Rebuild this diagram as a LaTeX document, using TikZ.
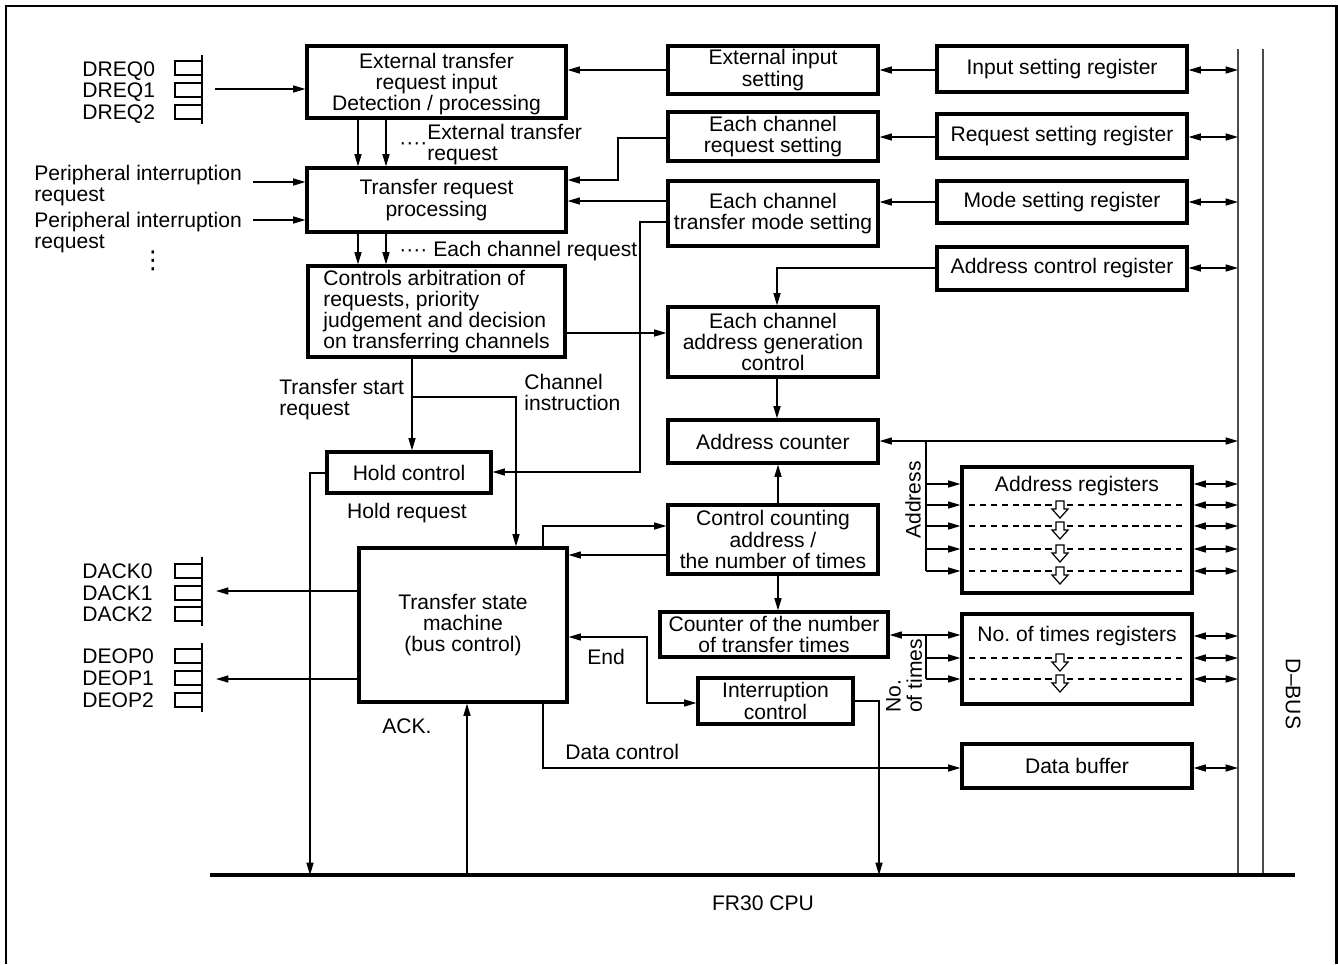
\documentclass[tikz,border=0pt]{standalone}
\usepackage{fontspec}
\setmainfont{Liberation Sans}
\newfontfamily\dejavu{DejaVu Sans}
\usetikzlibrary{arrows.meta,fit}
\newcommand\hollowdown[2]{\draw[line width=0.7pt, fill=white] (#1-4,#2-4) -- (#1+4,#2-4) -- (#1+4,#2+4) -- (#1+8,#2+4) -- (#1,#2+13) -- (#1-8,#2+4) -- (#1-4,#2+4) -- cycle;}
\begin{document}
\begin{tikzpicture}[x=0.02cm,y=-0.02cm,
  every node/.style={font=\fontsize{12}{12.1}\selectfont, inner sep=0pt},
  box/.style={draw, line width=1.8pt, inner sep=0pt},
  conn/.style={line width=0.75pt},
  tip/.tip={Triangle[length=7pt,width=4pt]},
  arr/.style={conn, -tip},
  darr/.style={conn, tip-tip},
  pin/.style={draw, line width=0.75pt},
  dbus/.style={line width=1.1pt, draw=black!70},
  regdash/.style={line width=0.8pt, dash pattern=on 3.6pt off 2.6pt}
]
\useasboundingbox (0,0) rectangle (1338,964);
% frame
\draw[line width=1.7pt] (6,964) -- (6,6) -- (1336,6) -- (1336,964);

% ---------- left column boxes
\node[box, fit={(307,46) (566,118)}] (ext) {};
\node[align=center] (extt) at ([yshift=-0.04cm]ext.center) {External transfer\\request input\\Detection / processing};
\node[box, fit={(307,168) (566,232)}] (trp) {};
\node[align=center] (trpt) at (trp) {Transfer request\\processing};
\node[box, fit={(308,266) (565,357)}] (arb) {};
\node[align=left] (arbt) at (arb) {Controls arbitration of\\requests, priority\\judgement and decision\\on transferring channels};
\node[box, fit={(327,452) (491,493)}] (hold) {};
\node (holdt) at (hold) {Hold control};
\node[box, fit={(359,548) (567,702)}] (tsm) {};
\node[align=center] (tsmt) at (tsm) {Transfer state\\machine\\(bus control)};

% ---------- middle column boxes
\node[box, fit={(668,46) (878,94)}] (eis) {};
\node[align=center] (eist) at (eis) {External input\\setting};
\node[box, fit={(668,112) (878,161)}] (ecrs) {};
\node[align=center] (ecrst) at (ecrs) {Each channel\\request setting};
\node[box, fit={(668,181) (878,246)}] (ectm) {};
\node[align=center] (ectmt) at (ectm) {Each channel\\transfer mode setting};
\node[box, fit={(668,307) (878,377)}] (ecag) {};
\node[align=center] (ecagt) at (ecag) {Each channel\\address generation\\control};
\node[box, fit={(668,420) (878,463)}] (ac) {};
\node (act) at (ac) {Address counter};
\node[box, fit={(668,505) (878,574)}] (cca) {};
\node[align=center] (ccat) at (cca) {Control counting\\address /\\the number of times};
\node[box, fit={(660,612) (888,657)}] (cnt) {};
\node[align=center] (cntt) at (cnt) {Counter of the number\\of transfer times};
\node[box, fit={(698,678) (853,724)}] (intc) {};
\node[align=center] (intct) at (intc) {Interruption\\control};

% ---------- right column boxes
\node[box, fit={(937,46) (1187,92)}] (isr) {};
\node (isrt) at (isr) {Input setting register};
\node[box, fit={(937,114) (1187,158)}] (rsr) {};
\node (rsrt) at (rsr) {Request setting register};
\node[box, fit={(937,181) (1187,223)}] (msr) {};
\node (msrt) at (msr) {Mode setting register};
\node[box, fit={(937,247) (1187,290)}] (acr) {};
\node (acrt) at (acr) {Address control register};
\node[box, fit={(962,467) (1192,593)}] (areg) {};
\node[anchor=base] (aregt) at (1077,491) {Address registers};
\node[box, fit={(962,614) (1192,704)}] (nreg) {};
\node[anchor=base] (nregt) at (1077,641) {No.\ of times registers};
\node[box, fit={(962,744) (1192,788)}] (dbuf) {};
\node (dbuft) at (dbuf) {Data buffer};

% register rows
\foreach \y in {505,526,549,571} {
  \draw[regdash] (969,\y) -- (1186,\y);
  \hollowdown{1060}{\y}
}
\foreach \y in {658,679} {
  \draw[regdash] (969,\y) -- (1186,\y);
  \hollowdown{1060}{\y}
}

% ---------- buses
\coordinate (busL) at (210,875);
\coordinate (busR) at (1295,875);
\coordinate (dbl) at (1238,49);
\coordinate (dbr) at (1263,49);
\draw[dbus] (dbl) -- (dbl |- busL);
\draw[dbus] (dbr) -- (dbr |- busL);
\draw[line width=1.9pt] (busL) -- (busR);
\node[rotate=-90] (dbuslbl) at (1293,694) {D–BUS};
\node[anchor=base] (cpu) at (763,910) {FR30 CPU};

% ---------- pins
\foreach \y in {61,83,105} \draw[pin] (175,\y) rectangle (202,\y+14);
\draw[conn] (202,55) -- (202,124);
\foreach \y in {564,586,607} \draw[pin] (175,\y) rectangle (202,\y+14);
\draw[conn] (202,557) -- (202,626);
\foreach \y in {649,671,693} \draw[pin] (175,\y) rectangle (202,\y+14);
\draw[conn] (202,643) -- (202,712);
\node[anchor=base west] (dreq0) at (82,76) {DREQ0};
\node[anchor=base west] (dreq1) at (82,97) {DREQ1};
\node[anchor=base west] (dreq2) at (82,119) {DREQ2};
\node[anchor=base west] (dack0) at (82,578) {DACK0};
\node[anchor=base west] (dack1) at (82,600) {DACK1};
\node[anchor=base west] (dack2) at (82,621) {DACK2};
\node[anchor=base west] (deop0) at (82,663) {DEOP0};
\node[anchor=base west] (deop1) at (82,685) {DEOP1};
\node[anchor=base west] (deop2) at (82,707) {DEOP2};

\coordinate (dreqout) at (215,89);
\draw[arr] (dreqout) -- (ext.west |- dreqout);
\coordinate (dackin) at (216,591);
\draw[arr] (tsm.west |- dackin) -- (dackin);
\coordinate (deopin) at (216,679);
\draw[arr] (tsm.west |- deopin) -- (deopin);

% ---------- peripheral requests
\node[anchor=north west, align=left] (per1) at (34,165) {Peripheral interruption\\request};
\node[anchor=north west, align=left] (per2) at (34,212) {Peripheral interruption\\request};
\node (vd) at (153,261) {\dejavu\fontsize{14}{14}\selectfont ⋮};
\coordinate (p1) at (253,182);
\coordinate (p2) at (253,220);
\draw[arr] (p1) -- (trp.west |- p1);
\draw[arr] (p2) -- (trp.west |- p2);

% ---------- left column connectors
\draw[arr] (358,0 |- ext.south) -- (358,0 |- trp.north);
\draw[arr] (386,0 |- ext.south) -- (386,0 |- trp.north);
\node[anchor=base west] (dots1) at (399,149) {····};
\node[anchor=north west, align=left] (extreq) at (427,124) {External transfer\\request};
\draw[arr] (358,0 |- trp.south) -- (358,0 |- arb.north);
\draw[arr] (386,0 |- trp.south) -- (386,0 |- arb.north);
\node[anchor=base west] (echreq) at (399,256) {···· Each channel request};

\draw[arr] (412,0 |- arb.south) -- (412,0 |- hold.north);
\draw[arr] (412,397) -- (516,397) -- (516,0 |- tsm.north);
\node[anchor=north west, align=left] (tsr) at (279,379) {Transfer start\\request};
\node[anchor=north west, align=left] (chi) at (524,374) {Channel\\instruction};
\node[anchor=base] (hreq) at (407,518) {Hold request};
\draw[arr] (hold.west |- 0,473) -- (310,473) -- (310,0 |- busL);

% ---------- right-to-left connectors
\draw[arr] (eis.west |- 0,70) -- (ext.east |- 0,70);
\draw[arr] (isr.west |- 0,70) -- (eis.east |- 0,70);
\draw[darr] (isr.east |- 0,70) -- (dbl |- 0,70);
\draw[arr] (rsr.west |- 0,137) -- (ecrs.east |- 0,137);
\draw[darr] (rsr.east |- 0,137) -- (dbl |- 0,137);
\draw[arr] (msr.west |- 0,202) -- (ectm.east |- 0,202);
\draw[darr] (msr.east |- 0,202) -- (dbl |- 0,202);
\draw[darr] (acr.east |- 0,268) -- (dbl |- 0,268);

\draw[arr] (ecrs.west |- 0,138) -- (618,138) -- (618,180) -- (trp.east |- 0,180);
\draw[arr] (ectm.west |- 0,201) -- (trp.east |- 0,201);
\draw[arr] (ectm.west |- 0,222) -- (640,222) -- (640,472) -- (hold.east |- 0,472);
\draw[arr] (acr.west |- 0,268) -- (777,268) -- (777,0 |- ecag.north);
\draw[arr] (arb.east |- 0,333) -- (ecag.west |- 0,333);
\draw[arr] (777,0 |- ecag.south) -- (777,0 |- ac.north);
\draw[arr] (778,0 |- cca.north) -- (778,0 |- ac.south);
\draw[arr] (778,0 |- cca.south) -- (778,0 |- cnt.north);

% address counter to registers and bus
\draw[darr] (ac.east |- 0,441) -- (dbl |- 0,441);
\draw[conn] (926,441) -- (926,571);
\node[rotate=90] (addrlbl) at (913,500) {Address};
\foreach \y in {484,505,526,549,571} {
  \draw[arr] (926,\y) -- (areg.west |- 0,\y);
  \draw[darr] (areg.east |- 0,\y) -- (dbl |- 0,\y);
}
% counter to times registers
\draw[darr] (cnt.east |- 0,635) -- (nreg.west |- 0,635);
\draw[conn] (926,635) -- (926,679);
\foreach \y in {658,679} \draw[arr] (926,\y) -- (nreg.west |- 0,\y);
\foreach \y in {636,658,679} \draw[darr] (nreg.east |- 0,\y) -- (dbl |- 0,\y);
\node[rotate=90, align=left] (ntlbl) at (904,676) {No.\\of times};
\draw[darr] (dbuf.east |- 0,768) -- (dbl |- 0,768);

% transfer state machine links
\draw[arr] (543,0 |- tsm.north) -- (543,526) -- (cca.west |- 0,526);
\draw[arr] (cca.west |- 0,555) -- (tsm.east |- 0,555);
\draw[darr] (tsm.east |- 0,637) -- (647,637) -- (647,703) -- (intc.west |- 0,703);
\node[anchor=base west] (endlbl) at (587,664) {End};
\draw[arr] (intc.east |- 0,701) -- (879,701) -- (879,0 |- busL);
\draw[arr] (467,0 |- busL) -- (467,0 |- tsm.south);
\node[anchor=base west] (ack) at (382,733) {ACK.};
\draw[arr] (543,0 |- tsm.south) -- (543,768) -- (dbuf.west |- 0,768);
\node[anchor=base west] (dctl) at (565,759) {Data control};
\end{tikzpicture}
\end{document}
